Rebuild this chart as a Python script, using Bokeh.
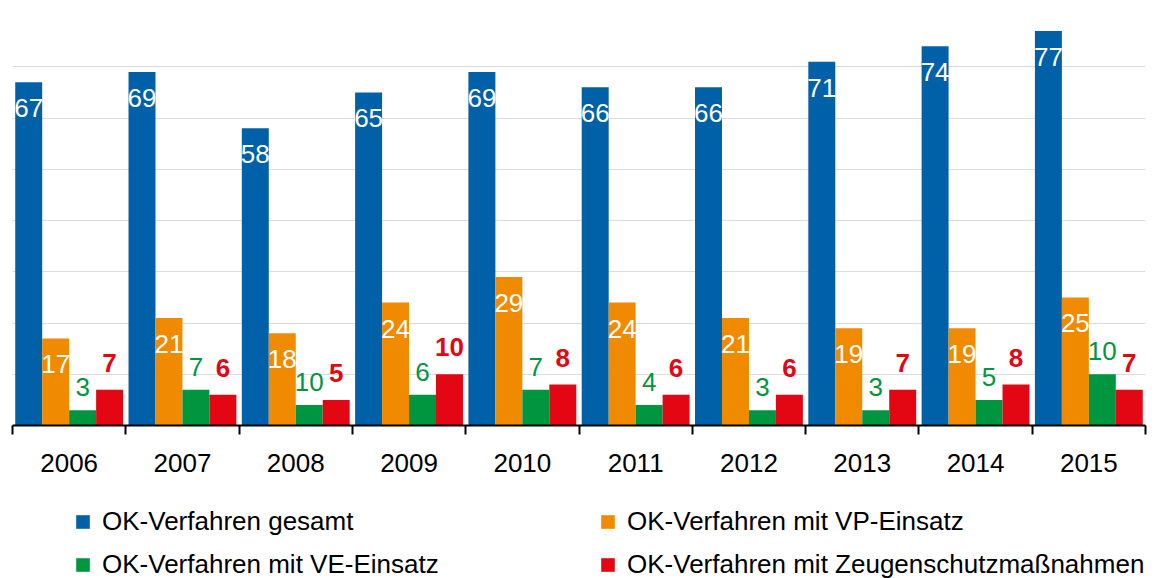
import numpy as np
from bokeh.plotting import figure
from bokeh.layouts import column
from bokeh.models import (ColumnDataSource, Range1d, FixedTicker, Legend, LegendItem)
from bokeh.core.properties import value
from bokeh.embed import file_html
from bokeh.resources import INLINE

years = ["2006", "2007", "2008", "2009", "2010", "2011", "2012", "2013", "2014", "2015"]
gesamt = [67, 69, 58, 65, 69, 66, 66, 71, 74, 77]
vp_einsatz = [17, 21, 18, 24, 29, 24, 21, 19, 19, 25]
ve_einsatz = [3, 7, 4, 6, 7, 4, 3, 3, 5, 10]
ve_labels = ["3", "7", "10", "6", "7", "4", "3", "3", "5", "10"]
zeugenschutz = [7, 6, 5, 10, 8, 6, 6, 7, 8, 7]

series_names = ["OK-Verfahren gesamt", "OK-Verfahren mit VP-Einsatz",
                "OK-Verfahren mit VE-Einsatz", "OK-Verfahren mit Zeugenschutzmaßnahmen"]
colors = ["#0060a8", "#f08a00", "#00963f", "#e30613"]

FONT = value("Liberation Sans")
FS = "26px"
BW = 0.238
offsets = [-1.5 * BW, -0.5 * BW, 0.5 * BW, 1.5 * BW]

centers = np.arange(len(years)) + 0.5

p = figure(width=1162, height=487, output_backend="svg", toolbar_location=None,
           x_range=Range1d(0, len(years)), y_range=Range1d(0, 80),
           min_border_left=12, min_border_right=17, min_border_top=15, min_border_bottom=62)
p.outline_line_color = None
p.yaxis.visible = False
p.xgrid.visible = False
p.ygrid.ticker = FixedTicker(ticks=list(range(0, 81, 10)))
p.ygrid.grid_line_color = "#dcdcdc"
p.ygrid.grid_line_width = 1

xa = p.xaxis[0]
xa.ticker = FixedTicker(ticks=list(centers), minor_ticks=list(range(0, len(years) + 1)))
xa.major_label_overrides = {float(c): y for c, y in zip(centers, years)}
xa.major_tick_line_color = None
xa.major_tick_in = 0
xa.major_tick_out = 0
xa.minor_tick_in = 0
xa.minor_tick_out = 9
xa.minor_tick_line_color = "black"
xa.minor_tick_line_width = 2
xa.axis_line_color = "black"
xa.axis_line_width = 2
xa.major_label_text_font = "Liberation Sans"
xa.major_label_text_font_size = FS
xa.major_label_text_color = "black"
xa.major_label_standoff = 19

all_vals = [gesamt, vp_einsatz, ve_einsatz, zeugenschutz]
all_labels = [[str(v) for v in gesamt], [str(v) for v in vp_einsatz], ve_labels,
              [str(v) for v in zeugenschutz]]
for k in range(4):
    src = ColumnDataSource(dict(x=centers + offsets[k], top=all_vals[k], lab=all_labels[k]))
    p.vbar(x="x", top="top", bottom=0, width=BW, source=src,
           fill_color=colors[k], line_color=None)
    if k < 2:
        p.text(x="x", y="top", text="lab", source=src, text_color="white",
               text_font=FONT, text_font_size=FS, text_align="center",
               text_baseline="middle", y_offset=26)
    else:
        p.text(x="x", y="top", text="lab", source=src, text_color=colors[k],
               text_font=FONT, text_font_size=FS, text_align="center",
               text_baseline="middle", y_offset=-23 if k == 2 else -27,
               text_font_style="bold" if k == 3 else "normal")

# legend strip: hidden renderers that only feed the legend swatches
lg = figure(width=1162, height=91, output_backend="svg", toolbar_location=None,
            x_axis_type=None, y_axis_type=None,
            x_range=Range1d(0, len(years)), y_range=Range1d(0, 80),
            min_border_left=0, min_border_right=0, min_border_top=0, min_border_bottom=0)
lg.outline_line_color = None
lg.grid.visible = False
legend_renderers = []
for k in range(4):
    r = lg.vbar(x=centers + offsets[k], top=all_vals[k], bottom=0, width=BW,
                fill_color=colors[k], line_color=None, visible=False)
    legend_renderers.append(r)

order = [0, 2, 1, 3]
items = [LegendItem(label=series_names[k], renderers=[legend_renderers[k]]) for k in order]
legend = Legend(items=items, ncols=2, location=(62, -2),
                glyph_width=17, glyph_height=17, label_standoff=11,
                label_text_font="Liberation Sans", label_text_font_size=FS,
                label_text_color="black",
                label_width=485, label_height=30, spacing=12,
                padding=0, margin=0, border_line_color=None,
                background_fill_alpha=0, inactive_fill_alpha=0)
lg.add_layout(legend)

layout = column(p, lg, spacing=0)
open("out.html", "w").write(file_html(layout, INLINE))
